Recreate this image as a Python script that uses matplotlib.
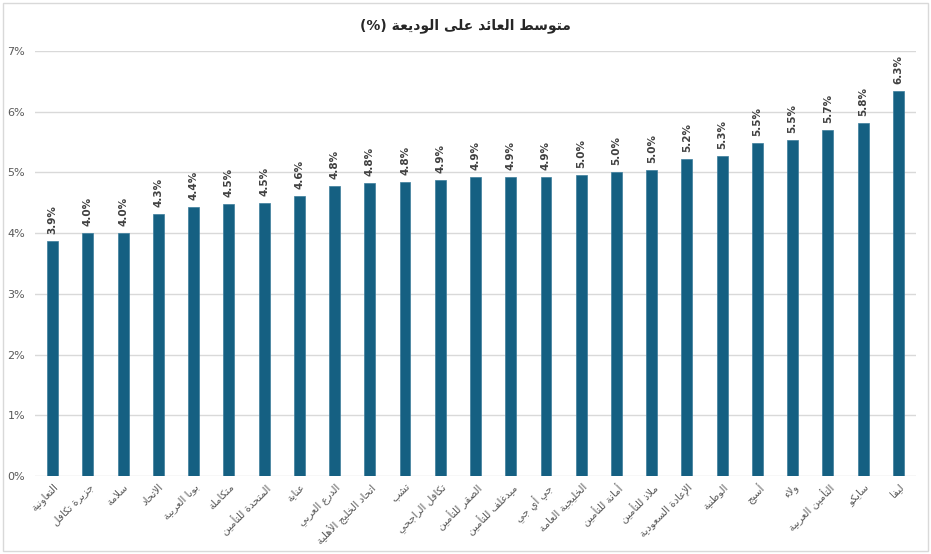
import matplotlib
matplotlib.use("Agg")
import matplotlib.pyplot as plt
from matplotlib.patches import Rectangle
from matplotlib.ticker import PercentFormatter

# data
companies = ['التعاونية', 'جزيرة تكافل', 'سلامة', 'الاتحاد', 'بوبا العربية', 'متكاملة',
             'المتحدة للتأمين', 'عناية', 'الدرع العربي', 'اتحاد الخليج الأهلية', 'تشب',
             'تكافل الراجحي', 'الصقر للتأمين', 'ميدغلف للتأمين', 'جي أي جي', 'الخليجية العامة',
             'أمانة للتأمين', 'ملاذ للتأمين', 'الإعادة السعودية', 'الوطنية', 'أسيج', 'ولاء',
             'التأمين العربية', 'سايكو', 'ليفا']
avg_return = [3.87, 4.00, 4.01, 4.32, 4.43, 4.48, 4.50, 4.61, 4.78, 4.83, 4.84, 4.88, 4.93,
              4.93, 4.93, 4.96, 5.00, 5.04, 5.22, 5.27, 5.49, 5.53, 5.70, 5.82, 6.34]
title_text = 'متوسط العائد على الوديعة'

# matplotlib has no arabic shaping, so map letters to presentation forms by hand
FORMS = {
    'ء': (0xFE80, 1), 'آ': (0xFE81, 2), 'أ': (0xFE83, 2), 'ؤ': (0xFE85, 2), 'إ': (0xFE87, 2),
    'ئ': (0xFE89, 4), 'ا': (0xFE8D, 2), 'ب': (0xFE8F, 4), 'ة': (0xFE93, 2), 'ت': (0xFE95, 4),
    'ث': (0xFE99, 4), 'ج': (0xFE9D, 4), 'ح': (0xFEA1, 4), 'خ': (0xFEA5, 4), 'د': (0xFEA9, 2),
    'ذ': (0xFEAB, 2), 'ر': (0xFEAD, 2), 'ز': (0xFEAF, 2), 'س': (0xFEB1, 4), 'ش': (0xFEB5, 4),
    'ص': (0xFEB9, 4), 'ض': (0xFEBD, 4), 'ط': (0xFEC1, 4), 'ظ': (0xFEC5, 4), 'ع': (0xFEC9, 4),
    'غ': (0xFECD, 4), 'ف': (0xFED1, 4), 'ق': (0xFED5, 4), 'ك': (0xFED9, 4), 'ل': (0xFEDD, 4),
    'م': (0xFEE1, 4), 'ن': (0xFEE5, 4), 'ه': (0xFEE9, 4), 'و': (0xFEED, 2), 'ى': (0xFEEF, 2),
    'ي': (0xFEF1, 4),
}
LAM_ALEF = {'آ': 0xFEF5, 'أ': 0xFEF7, 'إ': 0xFEF9, 'ا': 0xFEFB}


def nforms(c):
    if len(c) == 2:
        return 2
    return FORMS.get(c, (0, 0))[1]


def shape(text):
    chars = []
    i = 0
    while i < len(text):
        if text[i] == 'ل' and i + 1 < len(text) and text[i + 1] in LAM_ALEF:
            chars.append(text[i:i + 2])
            i += 2
        else:
            chars.append(text[i])
            i += 1
    out = []
    for k, c in enumerate(chars):
        n = nforms(c)
        if n == 0:
            out.append(c)
            continue
        prev = chars[k - 1] if k > 0 else None
        nxt = chars[k + 1] if k + 1 < len(chars) else None
        jp = prev is not None and nforms(prev) == 4 and n >= 2
        jn = n == 4 and nxt is not None and nforms(nxt) >= 2
        if jp and jn:
            f = 3
        elif jn:
            f = 2
        elif jp:
            f = 1
        else:
            f = 0
        base = LAM_ALEF[c[1]] if len(c) == 2 else FORMS[c][0]
        out.append(chr(base + f))
    return ''.join(out)[::-1]


bar_col = '#156082'
txt_col = '#595959'

fig = plt.figure(figsize=(9.31, 5.54), dpi=100)
fig.patches.append(Rectangle((0.003, 0.005), 0.994, 0.99, transform=fig.transFigure,
                             fill=False, edgecolor='#d9d9d9', linewidth=1))
ax = fig.add_axes([0.0376, 0.1408, 0.9463, 0.7672])

x = range(len(companies))
bars = ax.bar(x, avg_return, width=0.31, color=bar_col, edgecolor='#3c7d9c', linewidth=0.5, zorder=3)

for b, v in zip(bars, avg_return):
    ax.annotate(f'{v:.1f}%', (b.get_x() + b.get_width() / 2, v), xytext=(0, 5),
                textcoords='offset points', rotation=90, ha='center', va='bottom',
                fontsize=7.5, fontweight='bold', color='#404040')

ax.set_xlim(-0.5, len(companies) - 0.5)
ax.set_ylim(0, 7)
ax.set_yticks(range(0, 8))
ax.yaxis.set_major_formatter(PercentFormatter(decimals=0))
ax.grid(axis='y', color='#d9d9d9', linewidth=1, zorder=0)
for s in ax.spines.values():
    s.set_visible(False)
ax.tick_params(axis='y', length=0, labelsize=8, labelcolor=txt_col, pad=7)
ax.tick_params(axis='x', length=0, pad=4)
ax.set_xticks(list(x))
ax.set_xticklabels([shape(c) for c in companies], rotation=45, ha='right',
                   rotation_mode='anchor', fontsize=7.5, color=txt_col, family='DejaVu Sans')

fig.text(0.5, 0.953, '(%) ' + shape(title_text), ha='center', va='center',
         fontsize=10, fontweight='bold', color='#262626', family='DejaVu Sans')

fig.savefig('out.png', dpi=100)
